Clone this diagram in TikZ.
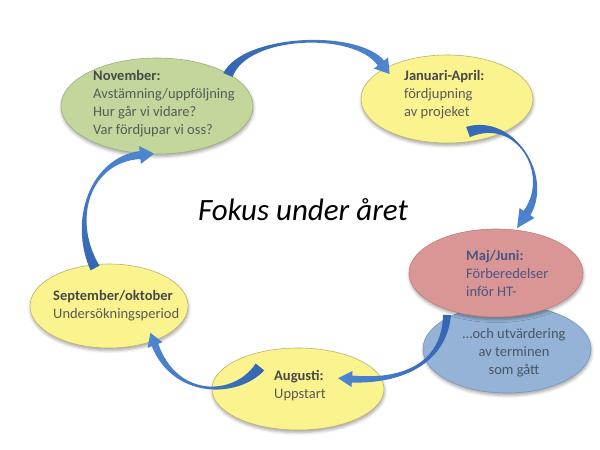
\documentclass[tikz,border=0pt]{standalone}
\usepackage{fontspec}
\setmainfont{Carlito}
\usetikzlibrary{shapes.geometric,calc,shadows.blur}
\definecolor{grfill}{HTML}{C3D69B}
\definecolor{grline}{HTML}{9EB27A}
\definecolor{yefill}{HTML}{FAF38E}
\definecolor{yeline}{HTML}{BDB470}
\definecolor{rdfill}{HTML}{D99694}
\definecolor{rdline}{HTML}{BE7F7D}
\definecolor{blfill}{HTML}{95B3D7}
\definecolor{blline}{HTML}{7897C0}
\definecolor{txtgray}{HTML}{5A5A5A}
\definecolor{txtdark}{HTML}{484848}
\definecolor{txtred}{HTML}{4A5585}
\definecolor{txtblue}{HTML}{4A5565}
\definecolor{arrdark}{HTML}{3465B2}
\definecolor{arrmid}{HTML}{4F86D0}
\definecolor{arrlight}{HTML}{A3C0EA}
\tikzset{
  ell/.style={ellipse, draw, line width=0.6pt, inner sep=0pt,
    blur shadow={shadow xshift=0.5pt, shadow yshift=-2.5pt, shadow blur radius=3pt, shadow opacity=35}},
  lbl/.style={align=left, font=\fontsize{14.5}{18}\selectfont, text=txtgray, inner sep=0pt},
  ttl/.style={font=\fontsize{31}{36}\selectfont\itshape, text=black, inner sep=0pt},
}
\def\arrmidw{2pt}
% #1 P0, #2 P1, #3 P2, #4 P3, #5 tail half width, #6 head-base half width, #7 head half width, #8 head length, #9 shading
\newcommand\myblockarrow[9]{%
  \shade[#9] ($(#1)!#5!90:(#2)$) .. controls ($(#2)!\arrmidw!-90:(#1)$) and ($(#3)!\arrmidw!90:(#4)$) .. ($(#4)!#6!-90:(#3)$)
    -- ($(#4)!#7!-90:(#3)$) -- ($(#4)!-#8!(#3)$) -- ($(#4)!#7!90:(#3)$) -- ($(#4)!#6!90:(#3)$)
    .. controls ($(#3)!\arrmidw!-90:(#4)$) and ($(#2)!\arrmidw!90:(#1)$) .. ($(#1)!#5!-90:(#2)$) -- cycle;}
\begin{document}
\begin{tikzpicture}[x=1pt,y=-1pt]
\useasboundingbox (0,0) rectangle (600,450);
% ellipses
\node[ell, fill=grfill, draw=grline, minimum width=192pt, minimum height=96pt] (nov) at (157,106) {};
\node[ell, fill=yefill, draw=yeline, minimum width=172pt, minimum height=88pt] (jan) at (447,99) {};
\node[ell, fill=blfill, draw=blline, minimum width=168pt, minimum height=88pt] (utv) at (507,349) {};
\node[ell, fill=rdfill, draw=rdline, minimum width=174pt, minimum height=88pt] (maj) at (496,273) {};
\node[ell, fill=yefill, draw=yeline, minimum width=172pt, minimum height=82pt] (aug) at (298,389) {};
\node[ell, fill=yefill, draw=yeline, minimum width=158pt, minimum height=84pt] (sep) at (109,306) {};
% arrow points
\coordinate (a1s) at ($(nov)+(71,-31)$);
\coordinate (a1p) at (245,35);
\coordinate (a1q) at (355,30);
\coordinate (a1e) at ($(jan)+(-66,-36)$);
\coordinate (a2s) at ($(jan)+(21,33)$);
\coordinate (a2p) at (515,115);
\coordinate (a2q) at (552,175);
\coordinate (a2e) at ($(maj)+(31,-60)$);
\coordinate (a3s) at ($(utv)+(-60,-34)$);
\coordinate (a3p) at (444,365);
\coordinate (a3q) at (400,382);
\coordinate (a3e) at ($(aug)+(54,-10)$);
\coordinate (a4s) at ($(aug)+(-38,-22)$);
\coordinate (a4p) at (235,398);
\coordinate (a4q) at (175,398);
\coordinate (a4e) at ($(sep)+(46,39)$);
\coordinate (a5s) at ($(sep)+(-14,-38)$);
\coordinate (a5p) at (70,220);
\coordinate (a5q) at (90,160);
\coordinate (a5e) at ($(nov)+(-17,49)$);
% arrows
\myblockarrow{a1s}{a1p}{a1q}{a1e}{5pt}{4pt}{9pt}{14pt}{left color=arrdark, middle color=arrlight, right color=arrmid}
\myblockarrow{a2s}{a2p}{a2q}{a2e}{5.5pt}{4pt}{9pt}{18pt}{top color=arrdark, middle color=arrlight, bottom color=arrmid}
\myblockarrow{a3s}{a3p}{a3q}{a3e}{4pt}{3.5pt}{8pt}{14pt}{left color=arrmid, middle color=arrlight, right color=arrdark}
\myblockarrow{a4s}{a4p}{a4q}{a4e}{5.5pt}{3.5pt}{8pt}{13pt}{left color=arrmid, middle color=arrlight, right color=arrdark}
\myblockarrow{a5s}{a5p}{a5q}{a5e}{5pt}{4pt}{9pt}{14pt}{top color=arrmid, middle color=arrlight, bottom color=arrdark}
% texts
\node[lbl, anchor=west] (novtxt) at (93,104) {\textcolor{txtdark}{\textbf{November:}}\\Avstämning/uppföljning\\Hur går vi vidare?\\Var fördjupar vi oss?};
\node[lbl, anchor=west] (jantxt) at (404,95) {\textcolor{txtdark}{\textbf{Januari-April:}}\\fördjupning\\av projeket};
\node[lbl, anchor=west, text=txtred] (majtxt) at (466,273) {\textbf{Maj/Juni:}\\Förberedelser\\inför HT-};
\node[lbl, align=center, text=txtblue] (utvtxt) at (514,353) {…och utvärdering\\av terminen\\som gått};
\node[lbl, anchor=west] (augtxt) at (274,386) {\textcolor{txtdark}{\textbf{Augusti:}}\\Uppstart};
\node[lbl, anchor=west] (septxt) at (53,306) {\textcolor{txtdark}{\textbf{September/oktober}}\\Undersökningsperiod};
\node[ttl] (title) at (303,210) {Fokus under året};
\end{tikzpicture}
\end{document}
